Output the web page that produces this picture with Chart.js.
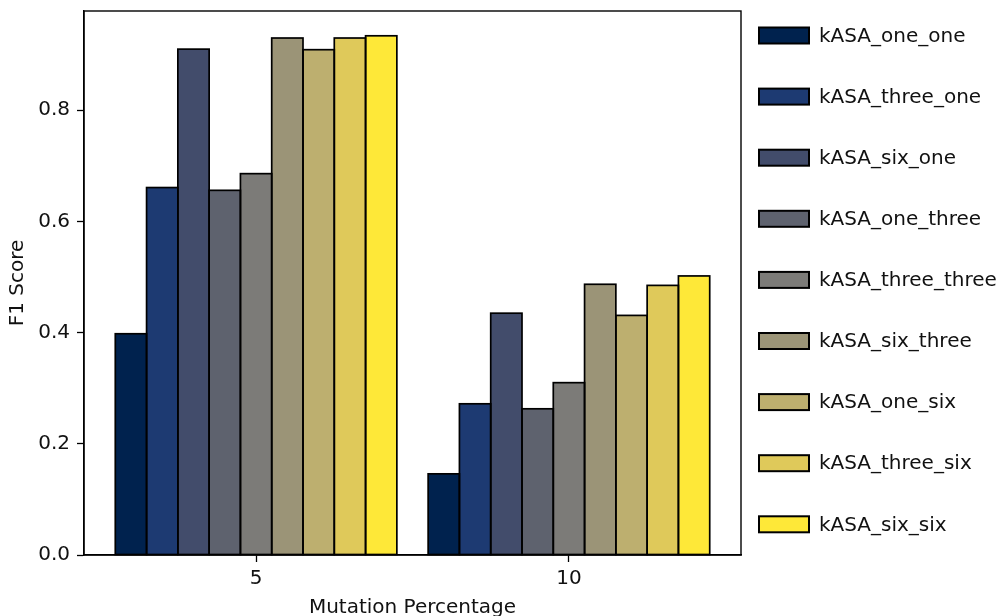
<!DOCTYPE html>
<html>
<head>
<meta charset="utf-8">
<title>F1 Score by Mutation Percentage</title>
<script src="https://cdn.jsdelivr.net/npm/chart.js@4/dist/chart.umd.min.js"></script>
<style>
  html, body { margin: 0; padding: 0; background: #ffffff; }
  #wrap { width: 1000px; height: 616px; }
</style>
</head>
<body>
<div id="wrap"><canvas id="chart" width="1000" height="616"></canvas></div>
<script>
// Mutation percentages (x categories)
const categories = ['5', '10'];

// Classifier configurations, one bar series each
const seriesNames = [
  'kASA_one_one', 'kASA_three_one', 'kASA_six_one',
  'kASA_one_three', 'kASA_three_three', 'kASA_six_three',
  'kASA_one_six', 'kASA_three_six', 'kASA_six_six'
];

// F1 scores per configuration, in category order [5, 10]
const kasaOneOne     = [0.398, 0.146];
const kasaThreeOne   = [0.661, 0.272];
const kasaSixOne     = [0.910, 0.435];
const kasaOneThree   = [0.656, 0.263];
const kasaThreeThree = [0.686, 0.310];
const kasaSixThree   = [0.930, 0.487];
const kasaOneSix     = [0.909, 0.431];
const kasaThreeSix   = [0.930, 0.485];
const kasaSixSix     = [0.934, 0.502];

const seriesValues = [
  kasaOneOne, kasaThreeOne, kasaSixOne,
  kasaOneThree, kasaThreeThree, kasaSixThree,
  kasaOneSix, kasaThreeSix, kasaSixSix
];

// Y axis tick labels
const yTicks = [0.0, 0.2, 0.4, 0.6, 0.8];

// Cividis palette sampled evenly across the series
const palette = [
  '#00224e', '#1d3a72', '#424c6b', '#5e626e', '#7c7b78',
  '#9b9477', '#bdaf6f', '#dfc95a', '#fee838'
];

const FONT = 'DejaVu Sans';
const FS = 20;
const INK = '#111111';
const EDGE_W = 1.7;

const datasets = seriesNames.map((name, i) => ({
  label: name,
  data: seriesValues[i].map((v, j) => ({ x: j, y: v })),
  backgroundColor: palette[i],
  borderWidth: 0,
  categoryPercentage: 0.9,
  barPercentage: 1.0
}));

// Bar outlines centred on the bar edges, the axes frame, and a legend column
const framePlugin = {
  id: 'frameAndLegend',
  afterDatasetsDraw(chart) {
    const { ctx, chartArea: a } = chart;
    ctx.save();
    ctx.strokeStyle = '#000';
    ctx.lineWidth = EDGE_W;
    chart.data.datasets.forEach((ds, i) => {
      chart.getDatasetMeta(i).data.forEach((bar) => {
        const p = bar.getProps(['x', 'y', 'base', 'width'], true);
        const left = p.x - p.width / 2;
        ctx.strokeRect(left, p.y, p.width, p.base - p.y);
      });
    });
    ctx.lineWidth = 1.4;
    ctx.strokeRect(a.left, a.top, a.right - a.left, a.bottom - a.top);
    ctx.restore();
  },
  afterDraw(chart) {
    const { ctx, chartArea: a } = chart;
    const x0 = a.right + 18;
    const boxW = 50, boxH = 16;
    const firstY = 35.5;
    const step = 61.1;
    ctx.save();
    ctx.font = FS + 'px "' + FONT + '"';
    ctx.textBaseline = 'middle';
    ctx.textAlign = 'left';
    chart.data.datasets.forEach((ds, i) => {
      const cy = firstY + i * step;
      ctx.fillStyle = ds.backgroundColor;
      ctx.fillRect(x0, cy - boxH / 2, boxW, boxH);
      ctx.strokeStyle = '#000';
      ctx.lineWidth = 2;
      ctx.strokeRect(x0, cy - boxH / 2, boxW, boxH);
      ctx.fillStyle = INK;
      ctx.fillText(ds.label, x0 + 60, cy + 1);
    });
    ctx.restore();
  }
};

new Chart(document.getElementById('chart'), {
  type: 'bar',
  data: { datasets },
  plugins: [framePlugin],
  options: {
    responsive: false,
    animation: false,
    devicePixelRatio: 1,
    layout: { padding: { top: 11, right: 259, bottom: 0, left: 0 } },
    plugins: {
      legend: { display: false },
      tooltip: { enabled: false }
    },
    scales: {
      x: {
        type: 'linear',
        offset: false,
        min: -0.55,
        max: 1.55,
        afterBuildTicks(scale) {
          scale.ticks = categories.map((c, i) => ({ value: i }));
        },
        afterFit(scale) {
          scale.height = 61;
          scale.paddingLeft = 0;
          scale.paddingRight = 0;
        },
        ticks: {
          autoSkip: false,
          maxRotation: 0,
          padding: 5,
          color: INK,
          font: { family: FONT, size: FS },
          callback: (v) => categories[v]
        },
        grid: {
          display: true,
          offset: false,
          drawOnChartArea: false,
          drawTicks: true,
          tickLength: 7,
          tickColor: '#000',
          tickWidth: 1.3
        },
        border: { display: true, color: '#000', width: 1.4 },
        title: {
          display: true,
          text: 'Mutation Percentage',
          color: INK,
          font: { family: FONT, size: FS, lineHeight: 1.0 },
          padding: { top: 0, bottom: -2 }
        }
      },
      y: {
        min: 0,
        max: 0.9786,
        afterBuildTicks(scale) {
          scale.ticks = yTicks.map(v => ({ value: v }));
        },
        afterFit(scale) {
          scale.width = 84;
          scale.paddingTop = 0;
          scale.paddingBottom = 0;
        },
        ticks: {
          padding: 7,
          color: INK,
          font: { family: FONT, size: FS },
          callback: (v) => Number(v).toFixed(1)
        },
        grid: {
          display: true,
          offset: false,
          drawOnChartArea: false,
          drawTicks: true,
          tickLength: 7,
          tickColor: '#000',
          tickWidth: 1.3
        },
        border: { display: true, color: '#000', width: 1.4 },
        title: {
          display: true,
          text: 'F1 Score',
          color: INK,
          font: { family: FONT, size: FS, lineHeight: 1.2 },
          padding: { top: 6, bottom: 0 }
        }
      }
    }
  }
});
</script>
</body>
</html>
